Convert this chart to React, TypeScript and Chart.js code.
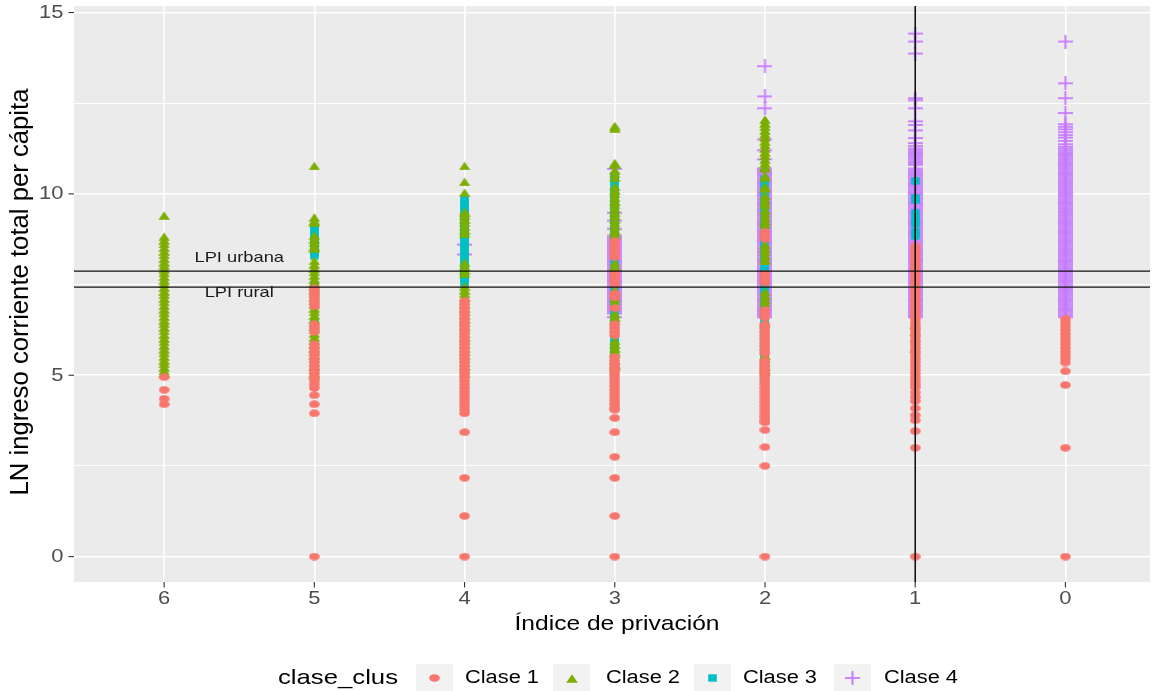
import { useEffect, useRef } from 'react';
import { Chart, registerables } from 'chart.js';

Chart.register(...registerables);

// ---------- axes / reference values ----------
const X_TICKS = [6, 5, 4, 3, 2, 1, 0];
const X_TICK_LABELS = ['6', '5', '4', '3', '2', '1', '0'];
const Y_MAJOR = [0, 5, 10, 15];
const Y_MINOR = [2.5, 7.5, 12.5];
const Y_TICK_LABELS = ['0', '5', '10', '15'];
const X_LIMITS = [-0.563, 6.6];
const Y_LIMITS = [-0.7, 15.18];
const LPI_URBANA = 7.87;
const LPI_RURAL = 7.43;
const CORTE_X = 1;
const LPI_LABELS = ['LPI urbana', 'LPI rural'];
const LPI_LABEL_X = [5.5, 5.5];
const LPI_LABEL_Y = [8.25, 7.28];
const X_TITLE = 'Índice de privación';
const Y_TITLE = 'LN ingreso corriente total per cápita';
const LEGEND_TITLE = 'clase_clus';
const CLASES = ['Clase 1', 'Clase 2', 'Clase 3', 'Clase 4'];
const COLORES = ['#F8766D', '#7CAE00', '#00BFC4', '#C77CFF'];

// ---------- Clase 1 (circles) ----------
const C1_X6 = [4.95, 4.6, 4.35, 4.2];
const C1_X5 = [7.4, 7.3, 7.2, 7.1, 7.0, 6.9, 6.4, 6.3, 6.2,
  5.85, 5.75, 5.65, 5.55, 5.45, 5.35, 5.25, 5.15, 5.05, 4.95, 4.85, 4.75, 4.65, 4.45, 4.2, 3.95, 0];
const C1_X4 = [7.05, 6.95, 6.85, 6.75, 6.65, 6.55, 6.45, 6.35, 6.25, 6.15, 6.05, 5.95, 5.85, 5.75, 5.65,
  5.55, 5.45, 5.35, 5.25, 5.15, 5.05, 4.95, 4.85, 4.75, 4.65, 4.55, 4.45, 4.35, 4.25, 4.15, 4.05,
  3.95, 3.43, 2.17, 1.12, 0];
const C1_X3 = [8.7, 8.6, 8.5, 8.4, 8.3, 8.25, 7.8, 7.7, 7.6, 7.5, 7.25, 7.15, 6.85, 6.4, 6.3, 6.2, 6.1,
  5.5, 5.4, 5.3, 5.2, 5.1, 5.0, 4.9, 4.8, 4.7, 4.6, 4.5, 4.4, 4.3, 4.2, 4.1, 4.05,
  3.82, 3.43, 2.75, 2.17, 1.12, 0];
const C1_X2 = [8.95, 8.85, 8.75, 7.8, 7.7, 7.6, 7.55, 6.8, 6.7, 6.6, 6.4, 6.3,
  6.2, 6.1, 6.0, 5.9, 5.8, 5.7, 5.6, 5.4, 5.3, 5.2, 5.1,
  5.05, 4.95, 4.85, 4.75, 4.65, 4.55, 4.45, 4.35, 4.25, 4.15, 4.05, 3.95, 3.85, 3.75, 3.7,
  3.49, 3.02, 2.5, 0];
const C1_X1 = [8.55, 8.45, 8.35, 8.25, 8.15, 8.05, 7.95, 7.85, 7.75, 7.65, 7.55, 7.45, 7.35, 7.25, 7.15, 7.05,
  6.95, 6.85, 6.75, 6.65, 6.55, 6.45, 6.35, 6.25, 6.15, 6.05, 5.95, 5.85, 5.75, 5.65, 5.55, 5.45, 5.35, 5.25,
  5.15, 5.05, 4.95, 4.85, 4.75, 4.67, 4.53, 4.4, 4.29, 4.09, 3.9, 3.76, 3.46, 3.0, 0];
const C1_X0 = [6.55, 6.45, 6.35, 6.25, 6.15, 6.05, 5.95, 5.85, 5.75, 5.65, 5.55, 5.45, 5.35, 5.11, 4.73, 3.0, 0];

// ---------- Clase 2 (triangles) ----------
const C2_X6 = [9.4, 8.82, 8.72, 8.62, 8.52, 8.42, 8.32, 8.22, 8.12, 8.02, 7.92, 7.82, 7.72, 7.62, 7.52, 7.42,
  7.32, 7.22, 7.12, 7.02, 6.92, 6.82, 6.72, 6.62, 6.52, 6.42, 6.32, 6.22, 6.12, 6.02, 5.92, 5.82, 5.72,
  5.62, 5.52, 5.42, 5.32, 5.22, 5.12, 5.05];
const C2_X5 = [10.77, 9.35, 9.25, 9.2, 8.85, 8.75, 8.65, 8.55, 8.5,
  8.15, 8.05, 7.95, 7.85, 7.75, 7.65, 7.55, 7.45, 7.35, 7.25, 7.15, 7.05, 6.95, 6.85, 6.75, 6.65, 6.55,
  6.45, 6.35, 6.25, 6.15, 6.05, 5.95, 5.85, 5.75, 5.65, 5.55, 5.45, 5.35, 5.25, 5.15, 5.05, 5.0];
const C2_X4 = [10.77, 10.33, 10.03, 9.5, 9.4, 9.3, 9.2, 9.1, 9.0, 8.9, 8.1, 8.0, 7.9, 7.8,
  7.45, 7.35, 7.25, 7.15, 7.05, 6.95, 6.85, 6.75, 6.65, 6.55, 6.45, 6.35, 6.25, 6.15, 6.05, 5.95,
  5.85, 5.75, 5.65, 5.55, 5.45, 5.35, 5.25, 5.15, 5.05];
const C2_X3 = [11.87, 11.8, 10.85, 10.8, 10.65, 10.55, 10.45,
  10.2, 10.1, 10.0, 9.9, 9.8, 9.7, 9.6, 9.5, 9.4, 9.3, 9.2, 9.1, 9.0, 8.9, 8.85,
  8.1, 8.0, 7.95, 7.35, 7.25, 7.15, 7.05, 6.95, 6.7, 6.6, 6.5, 5.95, 5.85, 5.75, 5.65, 5.6, 5.4, 5.3, 5.25];
const C2_X2 = [12.05, 11.95, 11.85, 11.75, 11.65, 11.55, 11.45, 11.35, 11.25, 11.15, 11.05, 10.95, 10.85, 10.75, 10.7,
  10.5, 10.45, 10.2, 10.15, 9.95, 9.85, 9.75, 9.7, 9.55, 9.45, 9.35, 9.25, 9.15,
  8.6, 8.5, 8.4, 8.3, 8.2, 8.15, 7.3, 7.2, 7.1, 7.0, 6.45, 5.55, 5.45, 5.35, 5.25, 5.15, 5.1];
const C2_X1 = [6.4, 6.2, 6.0, 5.75];

// ---------- Clase 3 (squares) ----------
const C3_X5 = [9.1, 9.0, 8.9, 8.8, 8.7, 8.6, 8.5, 8.4, 8.3, 7.45, 6.5];
const C3_X4 = [9.85, 9.75, 9.65, 9.55, 9.45, 9.35, 9.25, 9.15, 9.05, 8.95, 8.85, 8.75, 8.65, 8.55, 8.45,
  8.35, 8.25, 8.15, 8.05, 7.95, 7.85, 7.75, 7.65, 7.55, 4.86];
const C3_X3 = [10.5, 10.35, 10.2, 10.05, 9.9, 9.75, 9.6, 9.45, 9.3, 9.15, 9.0, 8.85, 8.7, 8.55, 8.4, 8.25, 8.1,
  7.95, 7.8, 7.65, 7.5, 7.35, 7.2, 7.05, 6.9, 6.75, 6.6, 6.45, 6.3, 6.15, 6.0, 5.85, 5.7, 5.55, 5.4, 5.25,
  5.1, 4.95, 4.8, 4.25];
const C3_X2 = [10.4, 10.25, 10.1, 9.95, 9.8, 9.65, 9.5, 9.35, 9.2, 9.05, 8.9, 8.75, 8.6, 8.45, 8.3, 8.15, 8.0,
  7.85, 7.7, 7.55, 7.4, 7.25, 7.1, 6.95, 6.8, 6.65, 6.5, 6.35, 6.2, 6.05, 5.9, 5.75, 5.6, 5.45, 5.3, 5.15,
  5.0, 4.85];
const C3_X1 = [10.36, 9.89, 9.83, 9.48, 9.31, 9.18, 8.96, 8.85];

// ---------- Clase 4 (plus) ----------
const C4_X4 = [8.6, 8.33];
const C4_X3 = [10.69, 9.48, 9.26, 9.04,
  8.85, 8.8, 8.75, 8.7, 8.65, 8.6, 8.55, 8.5, 8.45, 8.4, 8.35, 8.3, 8.25, 8.2, 8.15, 8.1, 8.05, 8.0,
  7.95, 7.9, 7.85, 7.8, 7.75, 7.7, 7.65, 7.6, 7.55, 7.5, 7.45, 7.4, 7.35, 7.3, 7.25, 7.2, 7.15, 7.1, 7.05, 7.0,
  6.95, 6.9, 6.85, 6.8, 6.75, 6.7, 6.6];
const C4_X2 = [13.52, 12.69, 12.36, 11.5, 11.2, 10.95,
  10.7, 10.65, 10.6, 10.55, 10.5, 10.45, 10.4, 10.35, 10.3, 10.25, 10.2, 10.15, 10.1, 10.05, 10.0,
  9.95, 9.9, 9.85, 9.8, 9.75, 9.7, 9.65, 9.6, 9.55, 9.5, 9.45, 9.4, 9.35, 9.3, 9.25, 9.2, 9.15, 9.1, 9.05, 9.0,
  8.95, 8.9, 8.85, 8.8, 8.75, 8.7, 8.65, 8.6, 8.55, 8.5, 8.45, 8.4, 8.35, 8.3, 8.25, 8.2, 8.15, 8.1, 8.05, 8.0,
  7.95, 7.9, 7.85, 7.8, 7.75, 7.7, 7.65, 7.6, 7.55, 7.5, 7.45, 7.4, 7.35, 7.3, 7.25, 7.2, 7.15, 7.1, 7.05, 7.0,
  6.95, 6.9, 6.85, 6.8, 6.75, 6.7, 6.65, 6.6];
const C4_X1 = [14.42, 14.2, 13.87, 12.64, 12.58, 12.36, 12.0, 11.9, 11.75, 11.54, 11.4, 11.32,
  11.25, 11.2, 11.15, 11.1, 11.05, 11.0,
  10.95, 10.9, 10.85, 10.8, 10.7, 10.65, 10.6, 10.55, 10.5, 10.45, 10.4, 10.35, 10.3, 10.25, 10.2, 10.15, 10.1, 10.05, 10.0,
  9.95, 9.9, 9.85, 9.8, 9.75, 9.7, 9.65, 9.6, 9.55, 9.5, 9.45, 9.4, 9.35, 9.3, 9.25, 9.2, 9.15, 9.1, 9.05, 9.0,
  8.95, 8.9, 8.85, 8.8, 8.75, 8.7, 8.65, 8.6, 8.55, 8.5, 8.45, 8.4, 8.35, 8.3, 8.25, 8.2, 8.15, 8.1, 8.05, 8.0,
  7.95, 7.9, 7.85, 7.8, 7.75, 7.7, 7.65, 7.6, 7.55, 7.5, 7.45, 7.4, 7.35, 7.3, 7.25, 7.2, 7.15, 7.1, 7.05, 7.0,
  6.95, 6.9, 6.85, 6.8, 6.75, 6.7, 6.65, 6.6];
const C4_X0 = [14.2, 13.05, 12.64, 12.23, 11.92, 11.85, 11.78, 11.7, 11.62, 11.55, 11.46,
  11.37, 11.3, 11.25, 11.2, 11.15, 11.1, 11.05, 11.0,
  10.95, 10.9, 10.85, 10.8, 10.75, 10.7, 10.65, 10.6, 10.55, 10.5, 10.45, 10.4, 10.35, 10.3, 10.25, 10.2, 10.15, 10.1, 10.05, 10.0,
  9.95, 9.9, 9.85, 9.8, 9.75, 9.7, 9.65, 9.6, 9.55, 9.5, 9.45, 9.4, 9.35, 9.3, 9.25, 9.2, 9.15, 9.1, 9.05, 9.0,
  8.95, 8.9, 8.85, 8.8, 8.75, 8.7, 8.65, 8.6, 8.55, 8.5, 8.45, 8.4, 8.35, 8.3, 8.25, 8.2, 8.15, 8.1, 8.05, 8.0,
  7.95, 7.9, 7.85, 7.8, 7.75, 7.7, 7.65, 7.6, 7.55, 7.5, 7.45, 7.4, 7.35, 7.3, 7.25, 7.2, 7.15, 7.1, 7.05, 7.0,
  6.95, 6.9, 6.85, 6.8, 6.75, 6.7, 6.65, 6.6];

const pts = (x: number, ys: number[]) => ys.map((y) => ({ x, y }));

const FONT = '"Liberation Sans", Arial, sans-serif';
const SX = 1.22;

function drawText(ctx: CanvasRenderingContext2D, s: string, x: number, y: number, size: number,
  align: CanvasTextAlign, baseline: CanvasTextBaseline, color: string, sx: number, targetW?: number) {
  ctx.save();
  ctx.font = `${size}px ${FONT}`;
  ctx.fillStyle = color;
  ctx.textAlign = align;
  ctx.textBaseline = baseline;
  let k = sx;
  if (targetW) k = targetW / ctx.measureText(s).width;
  ctx.translate(x, y);
  ctx.scale(k, 1);
  ctx.fillText(s, 0, 0);
  ctx.restore();
}

function makeImg(w: number, h: number, draw: (g: CanvasRenderingContext2D) => void) {
  const c = document.createElement('canvas');
  c.width = w;
  c.height = h;
  const g = c.getContext('2d')!;
  draw(g);
  return c;
}

export default function App() {
  const ref = useRef<HTMLCanvasElement>(null);

  useEffect(() => {
    const imgs = [
      makeImg(11, 8, (g) => { g.fillStyle = COLORES[0]; g.beginPath(); g.ellipse(5.5, 4, 5.3, 3.8, 0, 0, Math.PI * 2); g.fill(); }),
      makeImg(12, 9, (g) => { g.fillStyle = COLORES[1]; g.beginPath(); g.moveTo(6, 0.2); g.lineTo(11.8, 8.7); g.lineTo(0.2, 8.7); g.closePath(); g.fill(); }),
      makeImg(9, 8, (g) => { g.fillStyle = COLORES[2]; g.fillRect(0.2, 0.3, 8.6, 7.4); }),
      makeImg(15, 14, (g) => { g.fillStyle = COLORES[3]; g.fillRect(0, 6.1, 15, 1.8); g.fillRect(6.5, 0, 2, 14); }),
    ];

    const seriesData = [
      [...pts(6, C1_X6), ...pts(5, C1_X5), ...pts(4, C1_X4), ...pts(3, C1_X3), ...pts(2, C1_X2), ...pts(1, C1_X1), ...pts(0, C1_X0)],
      [...pts(6, C2_X6), ...pts(5, C2_X5), ...pts(4, C2_X4), ...pts(3, C2_X3), ...pts(2, C2_X2), ...pts(1, C2_X1)],
      [...pts(5, C3_X5), ...pts(4, C3_X4), ...pts(3, C3_X3), ...pts(2, C3_X2), ...pts(1, C3_X1)],
      [...pts(4, C4_X4), ...pts(3, C4_X3), ...pts(2, C4_X2), ...pts(1, C4_X1), ...pts(0, C4_X0)],
    ];

    const datasets = CLASES.map((label, i) => ({
      label,
      data: seriesData[i],
      pointStyle: imgs[i] as any,
      pointRadius: 5,
      pointHoverRadius: 5,
      backgroundColor: COLORES[i],
      borderColor: COLORES[i],
    }));

    const overlay = {
      id: 'overlay',
      beforeDraw(chart: any) {
        const { ctx, chartArea: a } = chart;
        ctx.save();
        ctx.fillStyle = '#EBEBEB';
        ctx.fillRect(a.left, a.top, a.right - a.left, a.bottom - a.top);
        ctx.restore();
      },
      afterDatasetsDraw(chart: any) {
        const { ctx, chartArea: a, scales } = chart;
        const xs = scales.x, ys = scales.y;
        ctx.save();
        ctx.beginPath();
        ctx.rect(a.left, a.top, a.right - a.left, a.bottom - a.top);
        ctx.clip();
        ctx.strokeStyle = '#111';
        ctx.lineWidth = 1.4;
        [LPI_URBANA, LPI_RURAL].forEach((v) => {
          const py = ys.getPixelForValue(v);
          ctx.beginPath(); ctx.moveTo(a.left, py); ctx.lineTo(a.right, py); ctx.stroke();
        });
        const px = xs.getPixelForValue(CORTE_X);
        ctx.lineWidth = 1.6;
        ctx.beginPath(); ctx.moveTo(px, a.top); ctx.lineTo(px, a.bottom); ctx.stroke();
        LPI_LABELS.forEach((s, i) => {
          drawText(ctx, s, xs.getPixelForValue(LPI_LABEL_X[i]), ys.getPixelForValue(LPI_LABEL_Y[i]), 15, 'center', 'middle', '#1A1A1A', SX);
        });
        ctx.restore();
      },
      afterDraw(chart: any) {
        const { ctx, chartArea: a, scales } = chart;
        const xs = scales.x, ys = scales.y;
        ctx.save();
        ctx.strokeStyle = '#333333';
        ctx.lineWidth = 1.1;
        Y_MAJOR.forEach((v, i) => {
          const py = ys.getPixelForValue(v);
          ctx.beginPath(); ctx.moveTo(a.left - 5.5, py); ctx.lineTo(a.left, py); ctx.stroke();
          drawText(ctx, Y_TICK_LABELS[i], 63.5, py + 0.5, 18, 'right', 'middle', '#4D4D4D', SX);
        });
        X_TICKS.forEach((v, i) => {
          const px = xs.getPixelForValue(v);
          ctx.beginPath(); ctx.moveTo(px, a.bottom); ctx.lineTo(px, a.bottom + 5.5); ctx.stroke();
          drawText(ctx, X_TICK_LABELS[i], px, 599.5, 18, 'center', 'middle', '#4D4D4D', SX);
        });
        // axis titles
        drawText(ctx, X_TITLE, 617, 630, 21, 'center', 'alphabetic', '#000', SX, 205);
        ctx.save();
        ctx.translate(27.5, 292);
        ctx.rotate(-Math.PI / 2);
        ctx.font = `21px ${FONT}`;
        const w = ctx.measureText(Y_TITLE).width;
        ctx.scale(407 / w, SX);
        ctx.fillStyle = '#000';
        ctx.textAlign = 'center';
        ctx.textBaseline = 'alphabetic';
        ctx.fillText(Y_TITLE, 0, 0);
        ctx.restore();
        // legend
        drawText(ctx, LEGEND_TITLE, 278, 678, 21, 'left', 'middle', '#000', SX, 120);
        const keyX = [416, 553, 694, 834];
        const labX = [465, 606, 743, 884];
        CLASES.forEach((s, i) => {
          ctx.fillStyle = '#F2F2F2';
          ctx.fillRect(keyX[i], 664, 37, 30);
          const img = imgs[i];
          ctx.drawImage(img, Math.round(keyX[i] + 18.5 - img.width / 2), Math.round(678 - img.height / 2));
          drawText(ctx, s, labX[i], 678, 18, 'left', 'middle', '#000', SX, 74);
        });
        ctx.restore();
      },
    };

    const chart = new Chart(ref.current!, {
      type: 'scatter',
      data: { datasets: datasets as any },
      options: {
        animation: false,
        responsive: false,
        maintainAspectRatio: false,
        devicePixelRatio: 1,
        layout: { padding: { left: 74, top: 5, right: 0, bottom: 109 } },
        plugins: { legend: { display: false }, tooltip: { enabled: false } },
        events: [],
        scales: {
          x: {
            type: 'linear',
            reverse: true,
            min: X_LIMITS[0],
            max: X_LIMITS[1],
            afterFit: (s: any) => { s.height = 0; },
            afterBuildTicks: (s: any) => { s.ticks = X_TICKS.map((v) => ({ value: v })); },
            ticks: { display: false },
            grid: { color: '#FFFFFF', lineWidth: 1.6, drawTicks: false },
            border: { display: false },
          },
          y: {
            type: 'linear',
            min: Y_LIMITS[0],
            max: Y_LIMITS[1],
            afterFit: (s: any) => { s.width = 0; },
            afterBuildTicks: (s: any) => { s.ticks = [...Y_MAJOR, ...Y_MINOR].sort((p, q) => p - q).map((v) => ({ value: v })); },
            ticks: { display: false },
            grid: {
              color: '#FFFFFF',
              lineWidth: (c: any) => (Y_MAJOR.includes(c.tick?.value) ? 1.6 : 0.9),
              drawTicks: false,
            },
            border: { display: false },
          },
        },
      },
      plugins: [overlay],
    });
    return () => chart.destroy();
  }, []);

  return (
    <div style={{ position: 'fixed', left: 0, top: 0, width: 1156, height: 691, background: '#FFFFFF' }}>
      <canvas ref={ref} width={1156} height={691} style={{ display: 'block', width: 1156, height: 691 }} />
    </div>
  );
}
